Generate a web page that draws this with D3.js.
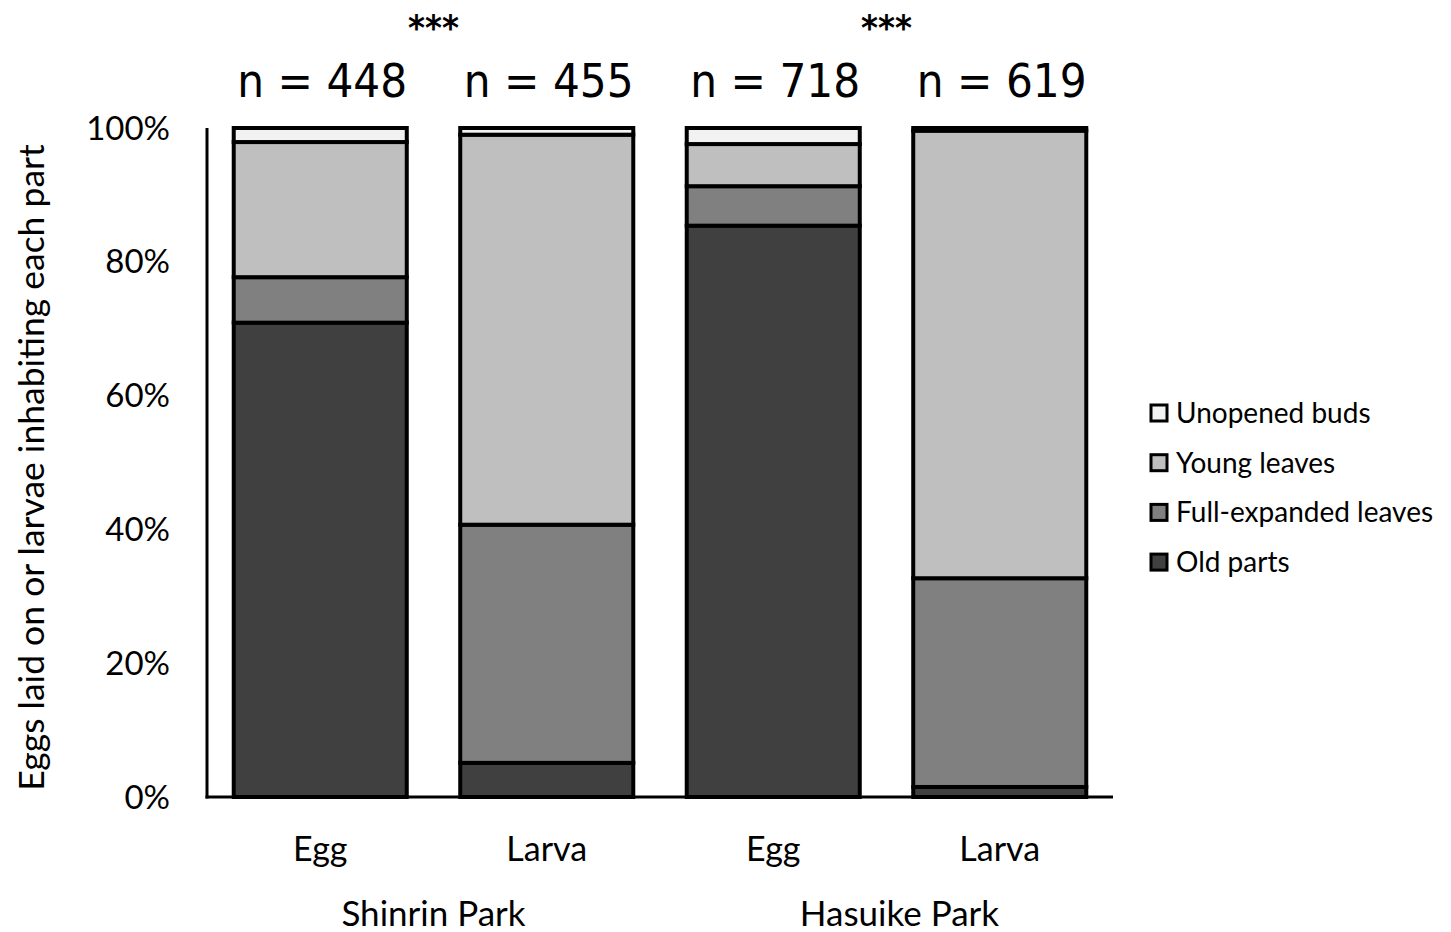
<!DOCTYPE html>
<html>
<head>
<meta charset="utf-8">
<script src="https://cdn.jsdelivr.net/npm/d3@7"></script>
<style>
  html, body { margin: 0; padding: 0; background: #fff; }
  svg { display: block; }
</style>
</head>
<body>
<svg id="chart" width="1451" height="932"></svg>
<script>
// Proportion of eggs / larvae found on each plant part (%)
const bars = ["Shinrin Egg", "Shinrin Larva", "Hasuike Egg", "Hasuike Larva"];
const stages = ["Egg", "Larva", "Egg", "Larva"];
const parks = ["Shinrin Park", "Hasuike Park"];
const sampleSizes = [448, 455, 718, 619];
const parts = ["Old parts", "Full-expanded leaves", "Young leaves", "Unopened buds"];
const oldParts = [70.9, 5.1, 85.4, 1.5];
const fullExpanded = [6.8, 35.6, 5.9, 31.2];
const youngLeaves = [20.2, 58.3, 6.3, 66.9];
const unopenedBuds = [2.1, 1.0, 2.4, 0.4];
const yTicks = [0, 20, 40, 60, 80, 100];
const partColors = ["#404040", "#808080", "#bfbfbf", "#f2f2f2"];

const rows = bars.map((b, i) => ({
  bar: b,
  "Old parts": oldParts[i],
  "Full-expanded leaves": fullExpanded[i],
  "Young leaves": youngLeaves[i],
  "Unopened buds": unopenedBuds[i]
}));

const svg = d3.select("#chart");
const font = "Lato, 'Open Sans', sans-serif";

const x = d3.scaleBand().domain(bars).range([207, 1113]).paddingInner(0.236).paddingOuter(0.118);
const y = d3.scaleLinear().domain([0, 100]).range([797, 128]);
const color = d3.scaleOrdinal().domain(parts).range(partColors);

const series = d3.stack().keys(parts)(rows);

// Stacked bars
svg.append("g")
  .selectAll("g")
  .data(series)
  .join("g")
  .attr("fill", d => color(d.key))
  .selectAll("rect")
  .data(d => d)
  .join("rect")
  .attr("x", d => x(d.data.bar))
  .attr("width", x.bandwidth())
  .attr("y", d => y(d[1]))
  .attr("height", d => y(d[0]) - y(d[1]))
  .attr("stroke", "#000")
  .attr("stroke-width", 4);

// Axes
svg.append("line")
  .attr("x1", 207).attr("x2", 207)
  .attr("y1", y(100)).attr("y2", y(0) + 1.5)
  .attr("stroke", "#000").attr("stroke-width", 3);
svg.append("line")
  .attr("x1", 205.5).attr("x2", 1113)
  .attr("y1", y(0)).attr("y2", y(0))
  .attr("stroke", "#000").attr("stroke-width", 3);

// Y tick labels
svg.append("g")
  .selectAll("text")
  .data(yTicks)
  .join("text")
  .attr("x", 170)
  .attr("y", d => y(d))
  .attr("dy", "0.35em")
  .attr("text-anchor", "end")
  .attr("font-family", font)
  .attr("font-size", 33)
  .attr("fill", "#000")
  .text(d => d + "%");

// Y axis title
svg.append("text")
  .attr("transform", `translate(44,${(138 + 797) / 2}) rotate(-90)`)
  .attr("text-anchor", "middle")
  .attr("font-family", font)
  .attr("font-size", 35.5)
  .attr("fill", "#000")
  .text("Eggs laid on or larvae inhabiting each part");

// Stage labels
svg.append("g")
  .selectAll("text")
  .data(bars)
  .join("text")
  .attr("x", d => x(d) + x.bandwidth() / 2)
  .attr("y", 861)
  .attr("text-anchor", "middle")
  .attr("font-family", font)
  .attr("font-size", 34)
  .attr("fill", "#000")
  .text((d, i) => stages[i]);

// Park labels
svg.append("g")
  .selectAll("text")
  .data(parks)
  .join("text")
  .attr("x", (d, i) => (x(bars[2 * i]) + x(bars[2 * i + 1]) + x.bandwidth()) / 2 + (i === 1 ? 13 : 0))
  .attr("y", 926)
  .attr("text-anchor", "middle")
  .attr("font-family", font)
  .attr("font-size", 35)
  .attr("fill", "#000")
  .text(d => d);

// Sample sizes
svg.append("g")
  .selectAll("text")
  .data(sampleSizes)
  .join("text")
  .attr("x", (d, i) => x(bars[i]) + x.bandwidth() / 2 + 2)
  .attr("y", 97)
  .attr("text-anchor", "middle")
  .attr("font-family", "'DejaVu Sans', sans-serif")
  .attr("font-stretch", "condensed")
  .attr("font-size", 47)
  .attr("fill", "#000")
  .text(d => "n = " + d);

// Significance markers
svg.append("g")
  .selectAll("text")
  .data(parks)
  .join("text")
  .attr("x", (d, i) => (x(bars[2 * i]) + x(bars[2 * i + 1]) + x.bandwidth()) / 2)
  .attr("y", 40)
  .attr("text-anchor", "middle")
  .attr("font-family", "'DejaVu Sans', sans-serif")
  .attr("font-stretch", "condensed")
  .attr("font-weight", "bold")
  .attr("font-size", 36)
  .attr("fill", "#000")
  .text("***");

// Legend
const legendParts = parts.slice().reverse();
const legend = svg.append("g")
  .selectAll("g")
  .data(legendParts)
  .join("g")
  .attr("transform", (d, i) => `translate(1151,${413 + i * 49.7})`);
legend.append("rect")
  .attr("x", 0).attr("y", -8)
  .attr("width", 16).attr("height", 16)
  .attr("fill", d => color(d))
  .attr("stroke", "#000")
  .attr("stroke-width", 3);
legend.append("text")
  .attr("x", 25)
  .attr("dy", "0.35em")
  .attr("font-family", font)
  .attr("font-size", 28)
  .attr("fill", "#000")
  .text(d => d);
</script>
</body>
</html>
